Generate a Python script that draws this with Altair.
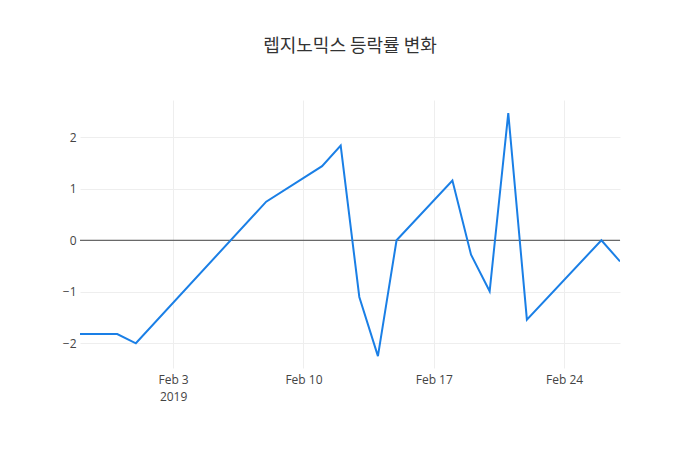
import altair as alt
import pandas as pd

# 거래일
dates = ['2019-01-29', '2019-01-31', '2019-02-01', '2019-02-08', '2019-02-11',
         '2019-02-12', '2019-02-13', '2019-02-14', '2019-02-15', '2019-02-18',
         '2019-02-19', '2019-02-20', '2019-02-21', '2019-02-22', '2019-02-26',
         '2019-02-27']
# 등락률(%)
rates = [-1.82, -1.82, -2.00, 0.75, 1.44,
         1.84, -1.10, -2.25, 0.00, 1.16,
         -0.28, -0.99, 2.47, -1.54, 0.00,
         -0.41]

source = pd.DataFrame({'date': dates, 'rate': rates})
zero = pd.DataFrame({'y': [0]})

font = 'Open Sans'
grey = '#444444'

x_ticks = [alt.DateTime(year=2019, month=2, date=d, utc=True) for d in (3, 10, 17, 24)]

base = alt.Chart(source)

#라인
line = base.mark_line(color='#1a7fe6', strokeWidth=2, clip=True).encode(
    x=alt.X('date:T', title=None,
            scale=alt.Scale(type='utc',
                            domain=[alt.DateTime(year=2019, month=1, date=29, utc=True),
                                    alt.DateTime(year=2019, month=2, date=27, utc=True)]),
            axis=alt.Axis(values=x_ticks, grid=True, gridColor='#eeeeee', domain=False,
                          ticks=False, labelPadding=6, labelFontSize=12, labelColor=grey,
                          labelFont=font, labelLineHeight=17,
                          labelExpr="utcdate(datum.value) == 3 ? [utcFormat(datum.value, '%b %-d'), '2019'] : utcFormat(datum.value, '%b %-d')")),
    y=alt.Y('rate:Q', title=None,
            scale=alt.Scale(domain=[-2.48, 2.724], nice=False, zero=False),
            axis=alt.Axis(values=[-2, -1, 0, 1, 2], grid=True, gridColor='#eeeeee',
                          domain=False, ticks=False, labelPadding=4, labelFontSize=12,
                          labelColor=grey, labelFont=font)),
)

#0 기준선
rule = alt.Chart(zero).mark_rule(color=grey, strokeWidth=1).encode(y='y:Q')

chart = alt.layer(rule, line).properties(
    width=540,
    height=268,
    title=alt.Title('렙지노믹스 등락률 변화', fontSize=18, font='Noto Sans CJK KR',
                    fontWeight='normal', color='#333333', anchor='middle', offset=44),
    padding={'left': 72, 'top': 92, 'right': 72, 'bottom': 40},
    autosize=alt.AutoSizeParams(type='none'),
    background='white',
).configure_view(stroke=None)

chart.save("out.html", embed_options={"renderer": "svg", "actions": False})
